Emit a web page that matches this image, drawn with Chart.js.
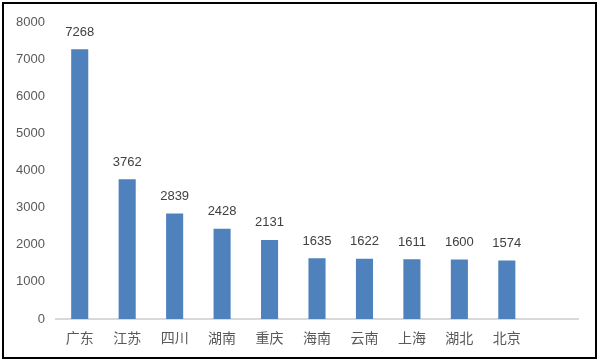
<!DOCTYPE html>
<html>
<head>
<meta charset="utf-8">
<script src="https://cdn.jsdelivr.net/npm/chart.js@4/dist/chart.umd.min.js"></script>
<style>
  html, body { margin: 0; padding: 0; background: #fff; }
  #wrap { position: relative; width: 600px; height: 362px; }
</style>
</head>
<body>
<div id="wrap"><canvas id="chart" width="600" height="362"></canvas></div>
<script>
// 数据 — 从图中读取
var categories = ['广东', '江苏', '四川', '湖南', '重庆', '海南', '云南', '上海', '湖北', '北京'];
var values = [7268, 3762, 2839, 2428, 2131, 1635, 1622, 1611, 1600, 1574];
var yTicks = [0, 1000, 2000, 3000, 4000, 5000, 6000, 7000, 8000];

// 原图右侧留了一个空类目位置
var labels = categories.concat(['']);

// 柱顶数值标签
var valueLabels = {
    id: 'valueLabels',
    afterDatasetsDraw: function(chart) {
        var ctx = chart.ctx;
        var meta = chart.getDatasetMeta(0);
        ctx.save();
        ctx.font = '13px "Liberation Sans", Arial, sans-serif';
        ctx.fillStyle = '#404040';
        ctx.textAlign = 'center';
        ctx.textBaseline = 'middle';
        meta.data.forEach(function(bar, i) {
            if (values[i] == null) return;
            ctx.fillText(String(values[i]), bar.x, bar.y - 17);
        });
        ctx.restore();
    }
};

// 外框
var frame = {
    id: 'frame',
    afterDraw: function(chart) {
        var ctx = chart.ctx;
        ctx.save();
        ctx.strokeStyle = '#000';
        ctx.lineWidth = 2;
        ctx.strokeRect(3, 3, 593, 355);
        ctx.restore();
    }
};

new Chart(document.getElementById('chart'), {
    type: 'bar',
    data: {
        labels: labels,
        datasets: [{
            data: values,
            backgroundColor: '#4F81BD',
            barPercentage: 0.36,
            categoryPercentage: 1,
        }],
    },
    options: {
        responsive: false,
        animation: false,
        layout: { padding: { left: 0, right: 22, top: 22, bottom: 0 } },
        plugins: { legend: { display: false }, tooltip: { enabled: false } },
        scales: {
            x: {
                grid: { display: false, drawTicks: false },
                border: { display: true, color: '#d9d9d9', width: 2 },
                ticks: {
                    padding: 10,
                    color: '#595959',
                    font: { family: '"Noto Sans CJK SC", sans-serif', size: 14 },
                    maxRotation: 0,
                    autoSkip: false,
                },
                afterFit: function(scale) { scale.height = 43; },
            },
            y: {
                min: 0,
                max: 8000,
                afterBuildTicks: function(scale) {
                    scale.ticks = yTicks.map(function(v) { return { value: v }; });
                },
                grid: { display: false, drawTicks: false },
                border: { display: false },
                ticks: {
                    padding: 11,
                    color: '#595959',
                    font: { family: '"Liberation Sans", Arial, sans-serif', size: 13 },
                    callback: function(v) { return String(v); },
                },
                afterFit: function(scale) { scale.width = 56; },
            },
        },
    },
    plugins: [valueLabels, frame],
});
</script>
</body>
</html>
